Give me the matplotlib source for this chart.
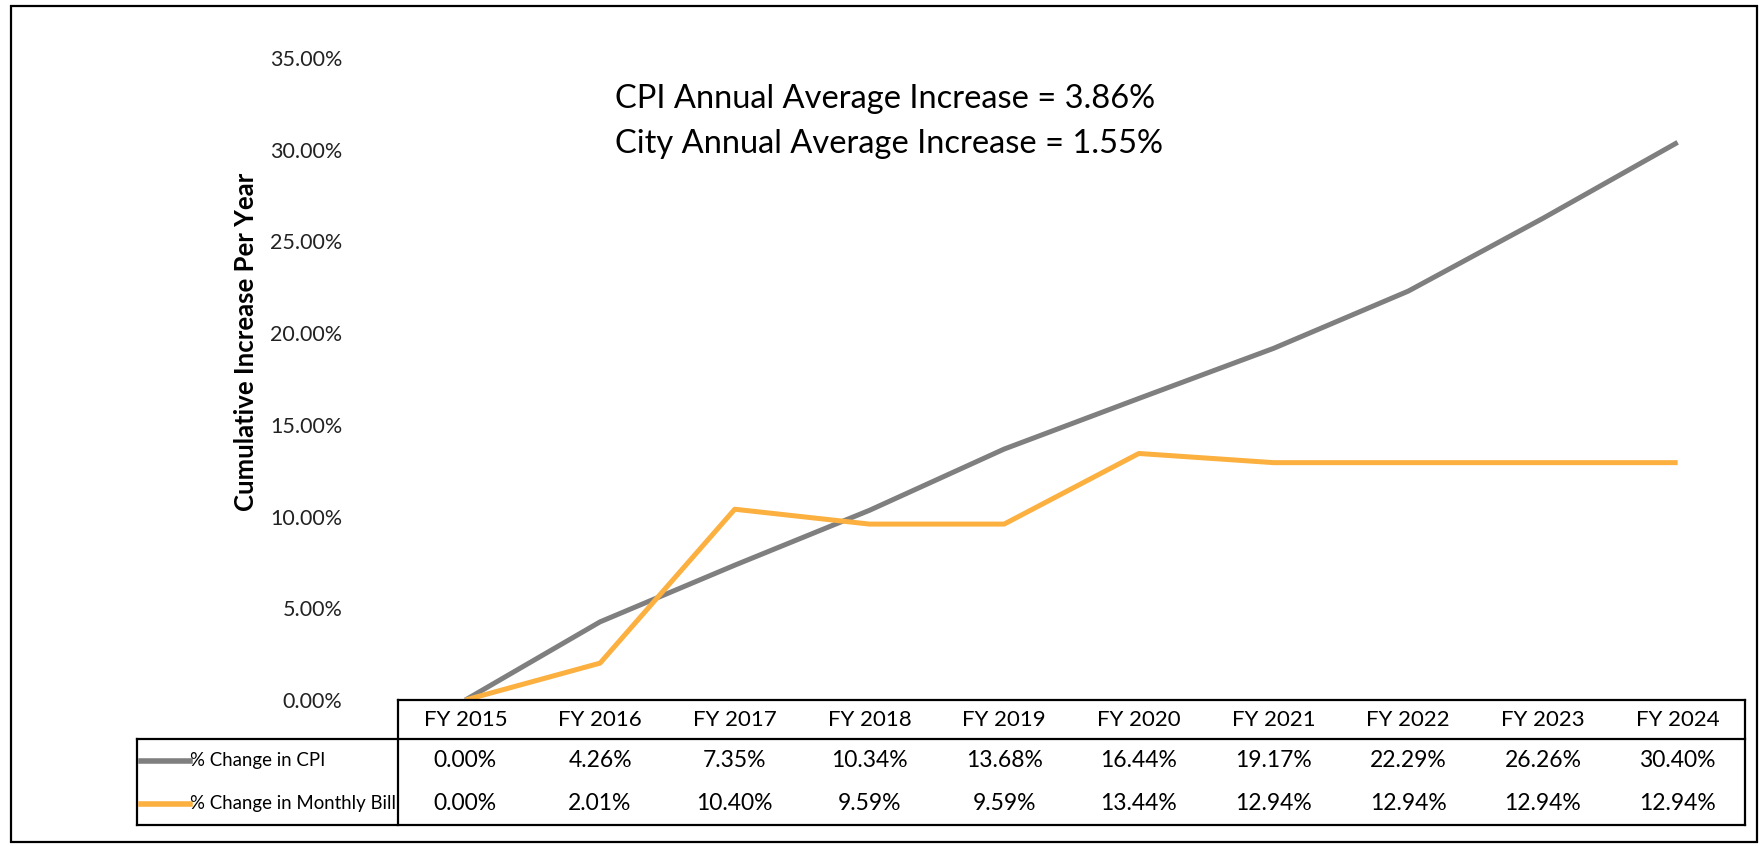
import numpy as np
import matplotlib
matplotlib.use("Agg")
import matplotlib.pyplot as plt
from matplotlib.lines import Line2D
from matplotlib.patches import Rectangle

# ---- data ----
years = ["FY 2015", "FY 2016", "FY 2017", "FY 2018", "FY 2019",
         "FY 2020", "FY 2021", "FY 2022", "FY 2023", "FY 2024"]
cpi_change = [0.00, 4.26, 7.35, 10.34, 13.68, 16.44, 19.17, 22.29, 26.26, 30.40]
bill_change = [0.00, 2.01, 10.40, 9.59, 9.59, 13.44, 12.94, 12.94, 12.94, 12.94]
series_names = ["% Change in CPI", "% Change in Monthly Bill"]
y_ticks = [0, 5, 10, 15, 20, 25, 30, 35]
annotation_lines = ["CPI Annual Average Increase = 3.86%",
                    "City Annual Average Increase = 1.55%"]
y_label = "Cumulative Increase Per Year"

C_CPI = "#7f7f7f"
C_BILL = "#fbb040"
FONT = "Lato"

W, H = 1760, 846
fig = plt.figure(figsize=(W / 100, H / 100), dpi=100)
renderer = fig.canvas.get_renderer()

def fx(px):
    return px / W

def fy(py):
    return 1 - py / H

# plot area
left_px, right_px, top_px, bottom_px = 398, 1745, 58, 700
ax = fig.add_axes([fx(left_px), fy(bottom_px), fx(right_px - left_px), (bottom_px - top_px) / H])
x = np.arange(len(years))
ax.plot(x, cpi_change, color=C_CPI, lw=3.6, solid_capstyle="butt", zorder=3)
ax.plot(x, bill_change, color=C_BILL, lw=3.6, solid_capstyle="butt", zorder=4)
ax.set_xlim(-0.5, len(years) - 0.5)
ax.set_ylim(0, 35)
ax.set_yticks(y_ticks)
ax.set_yticklabels([f"{v:.2f}%" for v in y_ticks], fontsize=15.5, family=FONT,
                   color="#222222")
ax.set_xticks([])
ax.tick_params(axis="y", length=0, pad=40)
for s in ax.spines.values():
    s.set_visible(False)
ax.patch.set_alpha(0)

fig.text(fx(246), fy(342), y_label, rotation=90, ha="center", va="center",
         fontsize=18.5, fontweight="bold", family=FONT)

for i, line in enumerate(annotation_lines):
    fig.text(fx(615), fy(99 + 45 * i), line, ha="left", va="center",
             fontsize=23.5, family=FONT)

# ---- data table ----
def hline(y, x0, x1, lw=1.6):
    fig.add_artist(Line2D([fx(x0), fx(x1)], [fy(y), fy(y)], color="black", lw=lw,
                          transform=fig.transFigure))

def vline(xp, y0, y1, lw=1.6):
    fig.add_artist(Line2D([fx(xp), fx(xp)], [fy(y0), fy(y1)], color="black", lw=lw,
                          transform=fig.transFigure))

tab_left = 137
row_head, row1, row2, row_bot = 700, 739, 782, 825
hline(row_head, left_px, right_px)
hline(row1, tab_left, right_px)
hline(row_bot, tab_left, right_px)
vline(left_px, row_head, row_bot)
vline(right_px, row_head, row_bot)
vline(tab_left, row1, row_bot)

col_w = (right_px - left_px) / len(years)
for i, yr in enumerate(years):
    cx = left_px + col_w * (i + 0.5)
    fig.text(fx(cx), fy((row_head + row1) / 2), yr, ha="center", va="center",
             fontsize=16, family=FONT)
    fig.text(fx(cx), fy((row1 + row2) / 2), f"{cpi_change[i]:.2f}%", ha="center",
             va="center", fontsize=16.5, family=FONT)
    fig.text(fx(cx), fy((row2 + row_bot) / 2), f"{bill_change[i]:.2f}%", ha="center",
             va="center", fontsize=16.5, family=FONT)

# legend-name column: fit longest name into the available width
name_x = 190
avail = left_px - name_x - 3
name_size = 16.5
probe = fig.text(0, 0, max(series_names, key=len), fontsize=name_size, family=FONT)
wpx = probe.get_window_extent(renderer).width
probe.remove()
if wpx > avail:
    name_size *= avail / wpx

for name, col, (r0, r1) in zip(series_names, [C_CPI, C_BILL], [(row1, row2), (row2, row_bot)]):
    yc = (r0 + r1) / 2
    fig.add_artist(Line2D([fx(141), fx(190)], [fy(yc), fy(yc)], color=col, lw=4,
                          transform=fig.transFigure))
    fig.text(fx(name_x), fy(yc), name, ha="left", va="center", fontsize=name_size,
             family=FONT)

# outer border
fig.add_artist(Rectangle((fx(11), fy(842)), fx(1757 - 11), (842 - 6) / H, fill=False,
                         ec="black", lw=1.6, transform=fig.transFigure))

fig.savefig("out.png", dpi=100)
